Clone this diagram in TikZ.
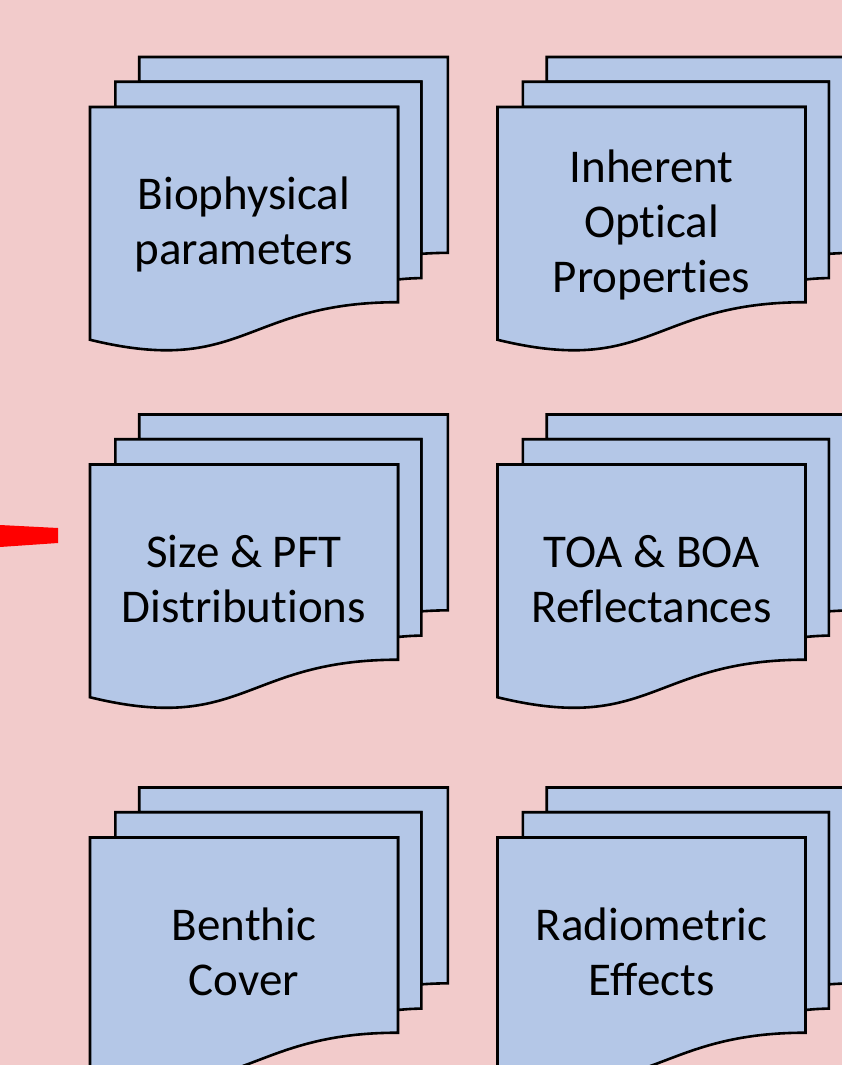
\documentclass[tikz,border=0pt]{standalone}
\usepackage{fontspec}
\setmainfont{Carlito}[Ligatures=NoCommon]
\definecolor{bgpink}{HTML}{F2CBCB}
\definecolor{pageblue}{HTML}{B4C7E7}

% one stack of three pages, #1,#2 = top left corner, #3 = node name, #4 = text
\newcommand\multidoc[4]{%
\begin{scope}[shift={(#1,#2)}]
\draw [page] (49.23,24.70)--(49.23,0)--(357.8,0)--(357.8,195.82)
  .. controls (344.55,195.82) and (331.3,196.84) .. (331.3,196.84)--(331.3,24.70)--cycle;
\draw [page] (25.38,50)--(25.38,24.70)--(331.3,24.70)--(331.3,221.13)
  .. controls (319.67,221.13) and (308.02,222.49) .. (308.02,222.49)--(308.02,50)--cycle;
\draw [page] (0,282.77) .. controls (154.02,320.32) and (154.02,245.21) .. (308.02,245.21)
  --(308.02,50)--(0,50)--cycle;
\node [doctext] (#3) at (154,169) {#4};
\end{scope}}

\begin{document}
\begin{tikzpicture}[x=1pt,y=-1pt,
  page/.style={draw=black, line width=2.6pt, fill=pageblue},
  doctext/.style={inner sep=0pt, align=center, text=black,
    font=\fontsize{47}{55}\selectfont}]
\useasboundingbox (0,0) rectangle (842,1065);
\fill [bgpink] (0,0) rectangle (842,1065);

% red arrow tail
\fill [red] (0,525)--(58,528)--(58,543)--(0,547)--cycle;

\multidoc{90}{57}{bio}{\strut Biophysical\\parameters\strut}
\multidoc{497.5}{57}{iop}{\strut Inherent\\Optical\\Properties\strut}

\multidoc{90}{414.5}{pft}{\strut Size \& PFT\\Distributions\strut}
\multidoc{497.5}{414.5}{refl}{\strut TOA \& BOA\\Reflectances\strut}

\multidoc{90}{787.5}{benthic}{\strut Benthic\\Cover\strut}
\multidoc{497.5}{787.5}{radio}{\strut Radiometric\\Effects\strut}
\end{tikzpicture}
\end{document}
